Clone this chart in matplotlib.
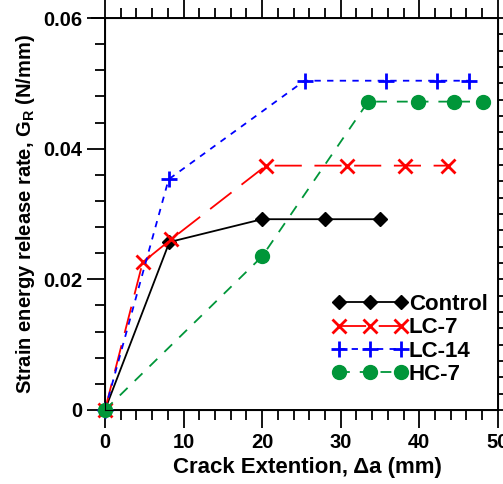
import matplotlib.pyplot as plt
from matplotlib.ticker import MultipleLocator, FuncFormatter

plt.rcParams['font.family'] = 'Liberation Sans'
plt.rcParams['font.weight'] = 'bold'
plt.rcParams['mathtext.fontset'] = 'custom'
plt.rcParams['mathtext.rm'] = 'Liberation Sans:bold'
plt.rcParams['mathtext.bf'] = 'Liberation Sans:bold'
plt.rcParams['mathtext.it'] = 'Liberation Sans:bold'

# Data
control_x = [0, 8.2, 20, 28, 35]
control_y = [0, 0.0257, 0.0292, 0.0292, 0.0292]
lc7_x = [0, 4.8, 8.4, 20.5, 30.8, 38.2, 43.6]
lc7_y = [0, 0.0226, 0.0261, 0.0374, 0.0374, 0.0374, 0.0374]
lc14_x = [0, 8.1, 25.4, 35.8, 42.2, 46.3]
lc14_y = [0, 0.0353, 0.0504, 0.0504, 0.0504, 0.0504]
hc7_x = [0, 20, 33.5, 39.8, 44.4, 48.1]
hc7_y = [0, 0.0235, 0.0472, 0.0472, 0.0472, 0.0472]

green = '#009639'

fig = plt.figure(figsize=(5.03, 4.84), dpi=100)
ax = fig.add_axes([0.2087, 0.153, 0.781, 0.8098])

ax.plot(control_x, control_y, color='black', lw=1.3, marker='D', ms=7,
        label='Control', clip_on=False, zorder=3)
ax.plot(lc7_x, lc7_y, color='red', lw=1.3, dashes=(15, 7), marker='x', ms=10,
        mew=2, label='LC-7', clip_on=False, zorder=3)
ax.plot(lc14_x, lc14_y, color='blue', lw=1.3, dashes=(3.5, 3.5), marker='+', ms=12,
        mew=2, label='LC-14', clip_on=False, zorder=3)
ax.plot(hc7_x, hc7_y, color=green, lw=1.3, dashes=(6, 5.5), marker='o', ms=10,
        label='HC-7', clip_on=False, zorder=4)

ax.set_xlim(0, 50)
ax.set_ylim(0, 0.06)
ax.xaxis.set_major_locator(MultipleLocator(10))
ax.xaxis.set_minor_locator(MultipleLocator(2))
ax.yaxis.set_major_locator(MultipleLocator(0.02))
ax.yaxis.set_minor_locator(MultipleLocator(0.004))
ax.yaxis.set_major_formatter(FuncFormatter(lambda v, p: '0' if v == 0 else '%.2f' % v))

ax.tick_params(which='both', direction='out', top=True, right=False, width=1.3,
               labelsize=14.5)
ax.tick_params(which='major', length=13)
ax.tick_params(which='minor', length=7)
for s in ax.spines.values():
    s.set_linewidth(1.4)

ax2 = ax.twinx()
ax2.set_ylim(0, 0.06)
ax2.yaxis.set_major_locator(MultipleLocator(0.0025))
ax2.tick_params(direction='out', length=7, width=1.3, labelright=False)

ax.axhline(0.06, xmin=-0.033, xmax=0, color='black', lw=1.4, clip_on=False)

ax.set_xlabel('Crack Extention, \u0394a (mm)', fontsize=16, fontweight='bold')
ax.xaxis.set_label_coords(0.515, -0.148)
ax.xaxis.label.set_va('center')
ax.set_ylabel(r'Strain energy release rate, G$_\mathregular{R}$ (N/mm)', fontsize=14.5,
              fontweight='bold', labelpad=4)

ax.legend(loc='lower right', bbox_to_anchor=(1.008, 0.03), numpoints=3, frameon=False,
          handlelength=3.4, handletextpad=0.05, labelspacing=0.1,
          borderaxespad=0.2, prop={'weight': 'bold', 'size': 16})

fig.savefig('out.png', dpi=100)
